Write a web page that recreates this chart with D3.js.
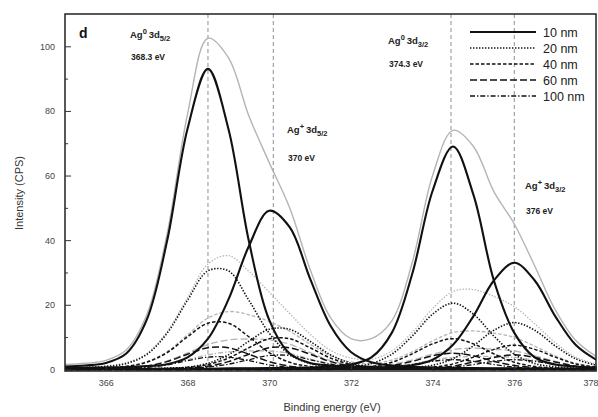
<!DOCTYPE html>
<html><head><meta charset="utf-8">
<script src="https://cdn.jsdelivr.net/npm/d3@7"></script>
<style>
html,body{margin:0;padding:0;background:#fff;}
svg{display:block;font-family:"Liberation Sans",Arial,sans-serif;}
</style></head>
<body>
<svg id="chart" width="598" height="417"></svg>
<script>
// ---------- data ----------
const energy = [365,365.5,366,366.5,367,367.5,368,368.5,369,369.5,370,370.5,371,371.5,372,372.5,373,373.5,374,374.5,375,375.5,376,376.5,377,377.5,378];
const xTickValues = [366,368,370,372,374,376,378];
const yTickValues = [0,20,40,60,80,100];
const refEnergies = [368.5,370.1,374.45,376.0];
const sampleNames = ["10 nm","20 nm","40 nm","60 nm","100 nm"];

// 10 nm : Ag0 3d5/2, Ag+ 3d5/2, Ag0 3d3/2, Ag+ 3d3/2, envelope
const s10_ag0_52 = [0.9,1.2,2.0,4.9,15.3,39.8,74.5,93.0,74.5,39.8,15.3,4.9,2.0,1.2,0.9,0.7,0.5,0.4,0.4,0.3,0.3,0.2,0.2,0.2,0.2,0.1,0.1];
const s10_agp_52 = [0.4,0.5,0.6,0.7,1.0,1.6,3.7,9.5,21.6,38.1,49.1,44.0,28.1,13.5,5.4,2.2,1.2,0.8,0.6,0.5,0.4,0.3,0.3,0.2,0.2,0.2,0.2];
const s10_ag0_32 = [0.1,0.1,0.1,0.1,0.1,0.2,0.2,0.2,0.3,0.3,0.4,0.5,0.6,0.9,1.5,3.7,11.3,29.5,55.3,69.0,54.0,27.5,11.3,3.7,1.5,0.9,0.6];
const s10_agp_32 = [0.1,0.1,0.1,0.1,0.1,0.1,0.1,0.1,0.1,0.2,0.2,0.2,0.3,0.3,0.4,0.5,0.7,1.3,3.0,7.6,16.5,27.5,33.0,27.5,16.5,7.6,3.0];
const s10_env    = [1.5,1.9,2.8,6.0,16.8,42.0,79.0,102.5,96.5,78.5,64.0,50.0,31.0,16.0,9.5,9.5,15.0,33.0,60.0,74.0,69.0,55.0,45.0,32.0,18.5,9.0,4.0];

// 20 nm
const s20_ag0_52 = [0.4,0.6,0.9,1.8,4.6,11.2,21.4,30.5,30.5,21.4,11.2,4.6,1.8,0.9,0.6,0.4,0.3,0.3,0.2,0.2,0.2,0.1,0.1,0.1,0.1,0.1,0.1];
const s20_agp_52 = [0.1,0.1,0.1,0.2,0.2,0.4,0.7,1.9,4.5,8.7,12.4,12.4,8.7,4.5,1.9,0.7,0.4,0.2,0.2,0.1,0.1,0.1,0.1,0.1,0.1,0,0];
const s20_ag0_32 = [0,0,0.1,0.1,0.1,0.1,0.1,0.1,0.1,0.2,0.2,0.2,0.3,0.4,0.8,1.8,4.7,10.3,17.1,20.5,17.1,10.3,4.7,1.8,0.8,0.4,0.3];
const s20_agp_32 = [0,0,0,0,0,0,0,0.1,0.1,0.1,0.1,0.1,0.1,0.1,0.2,0.2,0.3,0.6,1.3,3.3,7.3,12.1,14.5,12.1,7.3,3.3,1.3];
const s20_env    = [0.5,0.7,1.1,2.1,4.9,11.7,22.2,32.6,35.2,30.4,23.9,17.3,10.9,5.9,3.5,3.1,5.7,11.4,18.8,24.1,24.7,22.6,19.4,14.1,8.3,3.8,1.7];

// 40 nm
const s40_ag0_52 = [0.2,0.3,0.4,0.9,2.2,5.2,10.1,14.3,14.3,10.1,5.2,2.2,0.9,0.4,0.3,0.2,0.2,0.1,0.1,0.1,0.1,0.1,0.1,0,0,0,0];
const s40_agp_52 = [0.1,0.1,0.1,0.1,0.2,0.3,0.6,1.5,3.5,6.7,9.5,9.5,6.7,3.5,1.5,0.6,0.3,0.2,0.1,0.1,0.1,0.1,0.1,0.1,0,0,0];
const s40_ag0_32 = [0,0,0,0,0,0,0,0.1,0.1,0.1,0.1,0.1,0.1,0.2,0.4,0.9,2.2,4.8,7.9,9.5,7.9,4.8,2.2,0.9,0.4,0.2,0.1];
const s40_agp_32 = [0,0,0,0,0,0,0,0,0,0,0,0,0.1,0.1,0.1,0.1,0.2,0.3,0.7,1.7,3.8,6.2,7.5,6.2,3.8,1.7,0.7];
const s40_env    = [0.3,0.4,0.5,1.0,2.4,5.5,10.7,15.9,17.9,16.9,14.8,11.8,7.8,4.2,2.3,1.8,2.9,5.4,8.8,11.4,11.9,11.2,9.9,7.2,4.2,1.9,0.8];

// 60 nm
const s60_ag0_52 = [0.1,0.1,0.2,0.4,1.0,2.4,4.7,6.7,6.7,4.7,2.4,1.0,0.4,0.2,0.1,0.1,0.1,0.1,0,0,0,0,0,0,0,0,0];
const s60_agp_52 = [0,0.1,0.1,0.1,0.1,0.2,0.4,1.0,2.4,4.7,6.7,6.7,4.7,2.4,1.0,0.4,0.2,0.1,0.1,0.1,0.1,0,0,0,0,0,0];
const s60_ag0_32 = [0,0,0,0,0,0,0,0,0,0,0,0.1,0.1,0.1,0.2,0.5,1.2,2.5,4.2,5.0,4.2,2.5,1.2,0.5,0.2,0.1,0.1];
const s60_agp_32 = [0,0,0,0,0,0,0,0,0,0,0,0,0,0,0.1,0.1,0.1,0.2,0.4,1.0,2.3,3.7,4.5,3.7,2.3,1.0,0.4];
const s60_env    = [0.1,0.2,0.3,0.5,1.1,2.6,5.1,7.7,9.1,9.4,9.1,7.8,5.2,2.7,1.4,1.1,1.6,2.9,4.7,6.1,6.6,6.2,5.7,4.2,2.5,1.1,0.5];

// 100 nm
const s100_ag0_52 = [0.1,0.1,0.1,0.2,0.6,1.4,2.7,3.8,3.8,2.7,1.4,0.6,0.2,0.1,0.1,0.1,0,0,0,0,0,0,0,0,0,0,0];
const s100_agp_52 = [0,0,0,0.1,0.1,0.1,0.3,0.7,1.6,3.0,4.3,4.3,3.0,1.6,0.7,0.3,0.1,0.1,0.1,0,0,0,0,0,0,0,0];
const s100_ag0_32 = [0,0,0,0,0,0,0,0,0,0,0,0,0,0.1,0.1,0.3,0.7,1.5,2.5,3.0,2.5,1.5,0.7,0.3,0.1,0.1,0];
const s100_agp_32 = [0,0,0,0,0,0,0,0,0,0,0,0,0,0,0,0,0.1,0.1,0.3,0.7,1.5,2.5,3.0,2.5,1.5,0.7,0.3];
const s100_env    = [0.1,0.1,0.1,0.3,0.7,1.5,3.0,4.5,5.4,5.7,5.7,4.9,3.2,1.8,0.9,0.7,0.9,1.7,2.9,3.7,4.0,4.0,3.7,2.8,1.6,0.8,0.3];

const peakLabels = [
  {state:"0", core:"3d", j:"5/2", ev:"368.3 eV"},
  {state:"+", core:"3d", j:"5/2", ev:"370 eV"},
  {state:"0", core:"3d", j:"3/2", ev:"374.3 eV"},
  {state:"+", core:"3d", j:"3/2", ev:"376 eV"}
];

// ---------- styling / layout ----------
const samples = [
  {comps:[s10_ag0_52,s10_agp_52,s10_ag0_32,s10_agp_32], env:s10_env},
  {comps:[s20_ag0_52,s20_agp_52,s20_ag0_32,s20_agp_32], env:s20_env},
  {comps:[s40_ag0_52,s40_agp_52,s40_ag0_32,s40_agp_32], env:s40_env},
  {comps:[s60_ag0_52,s60_agp_52,s60_ag0_32,s60_agp_32], env:s60_env},
  {comps:[s100_ag0_52,s100_agp_52,s100_ag0_32,s100_agp_32], env:s100_env}
];
const styles = [
  {w:2.1, dash:null},
  {w:1.6, dash:"1.4,1.6"},
  {w:1.5, dash:"3.5,2"},
  {w:1.5, dash:"7,3"},
  {w:1.3, dash:"5,2,1.3,2"}
];
const labelPos = [
  {x:130, y:38, y2:60},
  {x:287, y:133, y2:161},
  {x:388, y:44, y2:67},
  {x:525, y:189, y2:214}
];

const L=65, R=596, T=14, B=371;
const svg = d3.select("#chart");
const x = d3.scaleLinear().domain([365,378]).range([L,R]);
const y = d3.scaleLinear().domain([-0.5,110]).range([B,T]);

svg.append("defs").append("clipPath").attr("id","clip")
  .append("rect").attr("x",L).attr("y",T).attr("width",R-L).attr("height",B-T);

const plot = svg.append("g").attr("clip-path","url(#clip)");

// reference lines
plot.selectAll("line.ref").data(refEnergies).enter().append("line")
  .attr("x1",d=>x(d)).attr("x2",d=>x(d)).attr("y1",T).attr("y2",B)
  .attr("stroke","#9a9a9a").attr("stroke-width",1.1).attr("stroke-dasharray","4,3");

const line = d3.line().x((d,i)=>x(energy[i])).y(d=>y(d)).curve(d3.curveCatmullRom.alpha(0.5));

// envelopes (grey) drawn first
for (let s=samples.length-1; s>=0; s--) {
  plot.append("path").datum(samples[s].env).attr("d",line)
    .attr("fill","none").attr("stroke","#b4b4b4")
    .attr("stroke-width", s===0?1.4:1.3)
    .attr("stroke-dasharray", styles[s].dash);
}
// components
for (let s=samples.length-1; s>=0; s--) {
  samples[s].comps.forEach(c=>{
    plot.append("path").datum(c).attr("d",line)
      .attr("fill","none").attr("stroke","#111")
      .attr("stroke-width",styles[s].w)
      .attr("stroke-dasharray",styles[s].dash);
  });
}

// frame
svg.append("rect").attr("x",L).attr("y",T).attr("width",R-L).attr("height",B-T)
  .attr("fill","none").attr("stroke","#222").attr("stroke-width",1.5);

// y axis
const yAxis = d3.axisLeft(y).tickValues(yTickValues).tickSize(-6).tickPadding(10).tickFormat(d3.format("d"));
const gy = svg.append("g").attr("transform",`translate(${L},0)`).call(yAxis);
gy.select(".domain").remove();
gy.selectAll("text").attr("font-size",9).attr("fill","#444");
gy.selectAll("line").attr("stroke","#333");
const yMinor = d3.axisLeft(y).tickValues(d3.range(10,110,20)).tickSize(-3).tickFormat("");
const gym = svg.append("g").attr("transform",`translate(${L},0)`).call(yMinor);
gym.select(".domain").remove(); gym.selectAll("line").attr("stroke","#333");

// x axis
const xAxis = d3.axisBottom(x).tickValues(xTickValues).tickSize(-5).tickPadding(9).tickFormat(d3.format("d"));
const gx = svg.append("g").attr("transform",`translate(0,${B})`).call(xAxis);
gx.select(".domain").remove();
gx.selectAll("text").attr("font-size",9).attr("fill","#444");
gx.selectAll("line").attr("stroke","#333");
// last label sits at the right edge: keep it inside the picture
gx.selectAll(".tick").filter(d=>d===378).select("text").attr("text-anchor","end").attr("dx",2);

// axis titles
svg.append("text").attr("x",332).attr("y",411).attr("text-anchor","middle")
  .attr("font-size",11).attr("fill","#333").text("Binding energy (eV)");
svg.append("text").attr("transform","translate(23,193) rotate(-90)").attr("text-anchor","middle")
  .attr("font-size",11).attr("fill","#333").text("Intensity (CPS)");

// panel letter
svg.append("text").attr("x",79).attr("y",38).attr("font-size",14).attr("font-weight","bold").attr("fill","#111").text("d");

// peak labels
peakLabels.forEach((p,i)=>{
  const pos = labelPos[i];
  const t = svg.append("text").attr("x",pos.x).attr("y",pos.y)
    .attr("font-size",9.5).attr("font-weight","bold").attr("fill","#222");
  t.append("tspan").text("Ag");
  t.append("tspan").attr("dy",-4.5).attr("font-size",7.5).text(p.state);
  t.append("tspan").attr("dy",4.5).text("\u2009" + p.core);
  t.append("tspan").attr("dy",3).attr("font-size",7.5).text(p.j);
  svg.append("text").attr("x",pos.x+1).attr("y",pos.y2)
    .attr("font-size",8.5).attr("font-weight","bold").attr("fill","#222").text(p.ev);
});

// legend
const lg = svg.append("g");
sampleNames.forEach((n,i)=>{
  const yy = 32 + i*16;
  lg.append("line").attr("x1",470).attr("x2",536).attr("y1",yy).attr("y2",yy)
    .attr("stroke","#111").attr("stroke-width",styles[i].w).attr("stroke-dasharray",styles[i].dash);
  lg.append("text").attr("x",543).attr("y",yy+4.5).attr("font-size",12.5).attr("fill","#222").text(n);
});
</script>
</body></html>
